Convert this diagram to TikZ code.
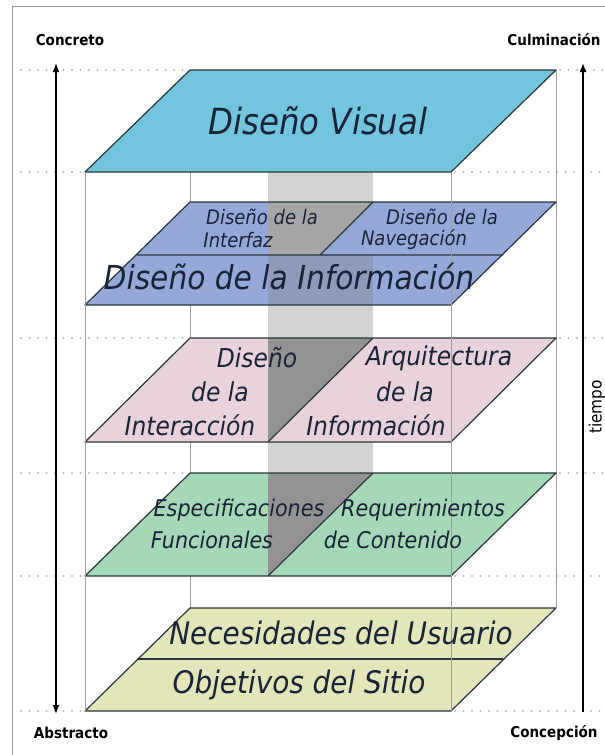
\documentclass[tikz,border=0pt]{standalone}
\usepackage{fontspec}
\setmainfont{DejaVu Sans Condensed}
\usetikzlibrary{arrows.meta}
\definecolor{visual}{RGB}{114,197,220}
\definecolor{interfaz}{RGB}{148,169,216}
\definecolor{interac}{RGB}{234,210,220}
\definecolor{funcional}{RGB}{165,216,182}
\definecolor{objetivo}{RGB}{227,230,184}
\definecolor{borde}{RGB}{40,55,60}
\definecolor{tinta}{RGB}{25,35,55}
\begin{document}
\begin{tikzpicture}[x=1pt,y=-1pt,
  plano/.style={draw=borde,line width=1.2pt,line join=round},
  arista/.style={draw=gray!75,line width=0.9pt},
  puntos/.style={draw=gray!55,line width=2.4pt,line cap=round,dash pattern=on 0pt off 8.5pt},
  eje/.style={line width=1.4pt},
  rotulo/.style={font=\fontsize{15}{18}\selectfont\bfseries},
  capa/.style={text=tinta,inner sep=0pt,font=\fontsize{#1}{#1}\selectfont\itshape}]
\useasboundingbox (0,0) rectangle (605,755);
% marco
\draw[gray!80,line width=1pt] (12,755) -- (12,6) -- (605,6);
% lineas de puntos
\draw[puntos] (21,70) -- (186,70) (560,70) -- (605,70);
\draw[puntos] (21,172) -- (85,172) (455,172) -- (605,172);
\draw[puntos] (21,338) -- (186,338) (560,338) -- (605,338);
\draw[puntos] (21,473) -- (186,473) (560,473) -- (605,473);
\draw[puntos] (21,576) -- (85,576) (455,576) -- (605,576);
\draw[puntos] (21,711) -- (85,711) (455,711) -- (605,711);
% aristas de atras y banda
\draw[arista] (190,70) -- (190,608) (556,70) -- (556,608);
\fill[gray!35] (268,172) rectangle (373,576);
% planos
\fill[visual] (190,70) -- (556,70) -- (451,172) -- (85,172) -- cycle;
\fill[interfaz] (190,202) -- (556,202) -- (451,305) -- (85,305) -- cycle;
\fill[interac] (190,338) -- (556,338) -- (451,442) -- (85,442) -- cycle;
\fill[funcional] (190,473) -- (556,473) -- (451,576) -- (85,576) -- cycle;
\fill[objetivo] (190,608) -- (556,608) -- (451,711) -- (85,711) -- cycle;
% sombras de la banda
\fill[gray!70] (268,202) -- (373,202) -- (320,255) -- (268,255) -- cycle;
\fill[gray,opacity=0.35] (268,255) rectangle (373,305);
\fill[gray!85] (268,338) -- (373,338) -- (268,442) -- cycle;
\fill[gray!85] (268,473) -- (373,473) -- (268,576) -- cycle;
% bordes
\draw[plano] (190,70) -- (556,70) -- (451,172) -- (85,172) -- cycle;
\draw[plano] (190,202) -- (556,202) -- (451,305) -- (85,305) -- cycle;
\draw[plano] (137,255) -- (503,255) (373,202) -- (320,255);
\draw[plano] (190,338) -- (556,338) -- (451,442) -- (85,442) -- cycle;
\draw[plano] (373,338) -- (268,442);
\draw[plano] (190,473) -- (556,473) -- (451,576) -- (85,576) -- cycle;
\draw[plano] (373,473) -- (268,576);
\draw[plano] (190,608) -- (556,608) -- (451,711) -- (85,711) -- cycle;
\draw[plano] (137,659) -- (503,659);
% aristas de adelante
\draw[arista] (85,172) -- (85,711) (451,172) -- (451,711);
% textos de las capas
\node[capa=36] (visual) at (318,121) {Diseño Visual};
\node[capa=20] (interfazA) at (262,217) {Diseño de la};
\node[capa=20] (interfazB) at (238,240) {Interfaz};
\node[capa=20] (navegA) at (442,217) {Diseño de la};
\node[capa=20] (navegB) at (414,240) {Navegación};
\node[capa=33] (informacion) at (289,277) {Diseño de la Información};
\node[capa=26] (interacA) at (257,358) {Diseño};
\node[capa=26] (interacB) at (220,392) {de la};
\node[capa=26] (interacC) at (190,425) {Interacción};
\node[capa=26] (arqA) at (439,358) {Arquitectura};
\node[capa=26] (arqB) at (405,392) {de la};
\node[capa=26] (arqC) at (376,425) {Información};
\node[capa=23] (especA) at (239,510) {Especificaciones};
\node[capa=23] (especB) at (212,540) {Funcionales};
\node[capa=23] (reqA) at (423,510) {Requerimientos};
\node[capa=23] (reqB) at (393,540) {de Contenido};
\node[capa=31] (necesidades) at (341,633) {Necesidades del Usuario};
\node[capa=31] (objetivos) at (299,685) {Objetivos del Sitio};
% ejes
\node[rotulo] (concreto) at (70,40) {Concreto};
\node[rotulo] (culminacion) at (554,40) {Culminación};
\node[rotulo] (abstracto) at (71,733) {Abstracto};
\node[rotulo] (concepcion) at (554,733) {Concepción};
\node[font=\fontsize{17}{17}\selectfont,rotate=90] (tiempo) at (597,407) {tiempo};
\coordinate (izqArriba) at (56,63);
\coordinate (izqAbajo) at (56,714);
\coordinate (derArriba) at (583,63);
\coordinate (derAbajo) at (583,712);
\draw[eje,{Latex[length=9pt,width=7pt]}-{Latex[length=9pt,width=7pt]}] (izqAbajo) -- (izqArriba);
\draw[eje,-{Latex[length=9pt,width=7pt]}] (derAbajo) -- (derArriba);
\end{tikzpicture}
\end{document}
